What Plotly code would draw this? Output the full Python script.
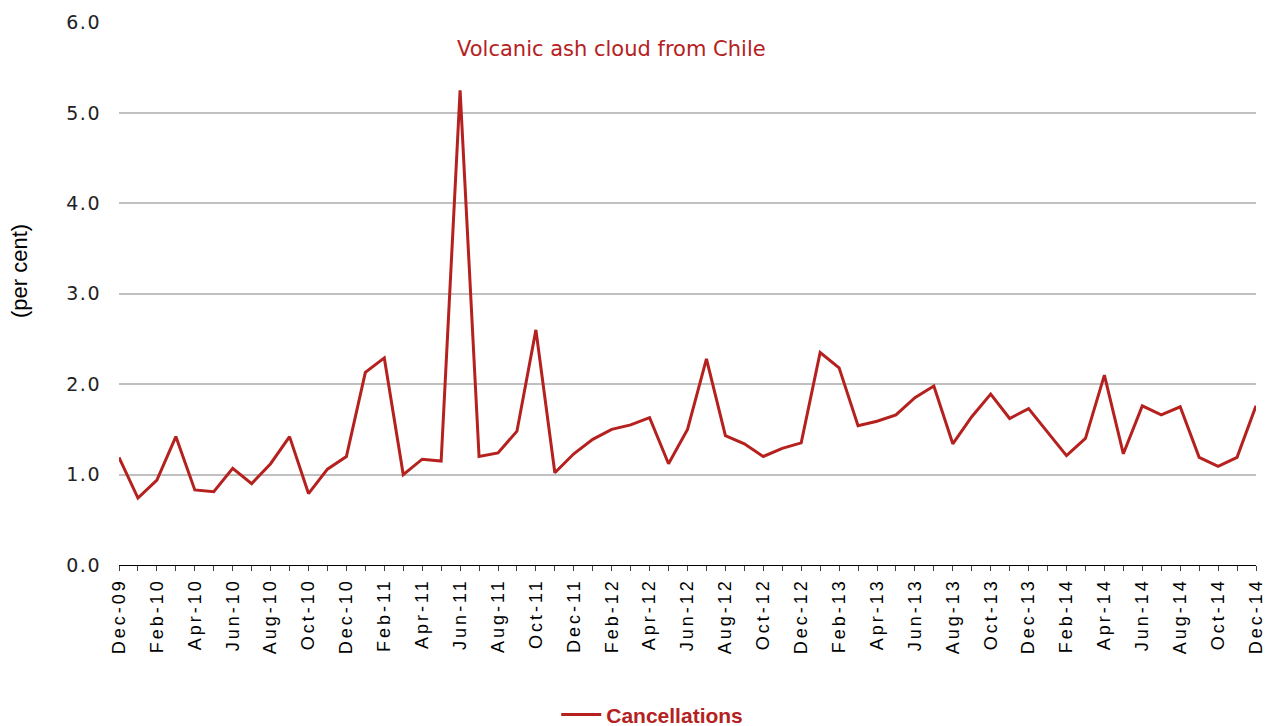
import plotly.graph_objects as go

months = ["Dec-09",
          "Jan-10", "Feb-10", "Mar-10", "Apr-10", "May-10", "Jun-10", "Jul-10", "Aug-10", "Sep-10", "Oct-10", "Nov-10", "Dec-10",
          "Jan-11", "Feb-11", "Mar-11", "Apr-11", "May-11", "Jun-11", "Jul-11", "Aug-11", "Sep-11", "Oct-11", "Nov-11", "Dec-11",
          "Jan-12", "Feb-12", "Mar-12", "Apr-12", "May-12", "Jun-12", "Jul-12", "Aug-12", "Sep-12", "Oct-12", "Nov-12", "Dec-12",
          "Jan-13", "Feb-13", "Mar-13", "Apr-13", "May-13", "Jun-13", "Jul-13", "Aug-13", "Sep-13", "Oct-13", "Nov-13", "Dec-13",
          "Jan-14", "Feb-14", "Mar-14", "Apr-14", "May-14", "Jun-14", "Jul-14", "Aug-14", "Sep-14", "Oct-14", "Nov-14", "Dec-14"]

cancellations = [1.19,
                 0.74, 0.94, 1.42, 0.83, 0.81, 1.07, 0.90, 1.12, 1.42, 0.79, 1.06, 1.20,
                 2.13, 2.29, 1.00, 1.17, 1.15, 5.25, 1.20, 1.24, 1.48, 2.60, 1.02, 1.23,
                 1.39, 1.50, 1.55, 1.63, 1.12, 1.50, 2.28, 1.43, 1.34, 1.20, 1.29, 1.35,
                 2.35, 2.18, 1.54, 1.59, 1.66, 1.85, 1.98, 1.34, 1.64, 1.89, 1.62, 1.73,
                 1.47, 1.21, 1.40, 2.10, 1.23, 1.76, 1.66, 1.75, 1.19, 1.09, 1.19, 1.76]

tick_text = [m if i % 2 == 0 else "" for i, m in enumerate(months)]

annotation_text = "Volcanic ash cloud from Chile"
annotation_month = "Feb-12"
annotation_value = 5.71

y_title = "(per cent)"

red = "#B5211E"

fig = go.Figure()
fig.add_trace(go.Scatter(
    x=months, y=cancellations, mode="lines", name="Cancellations",
    line=dict(color=red, width=3),
))

fig.add_annotation(
    x=annotation_month, y=annotation_value, xref="x", yref="y",
    text=annotation_text, showarrow=False,
    font=dict(family="DejaVu Sans", size=21, color=red),
)

# y-axis title (placed as rotated text, as in the original)
fig.add_annotation(
    x=-0.088, y=0.5414, xref="paper", yref="paper",
    xanchor="center", yanchor="middle", textangle=-90,
    text=y_title, showarrow=False,
    font=dict(family="Liberation Sans", size=22, color="black"),
)

fig.update_layout(
    width=1271, height=726,
    margin=dict(l=119, r=15, t=22, b=161),
    plot_bgcolor="white", paper_bgcolor="white",
    showlegend=True,
    legend=dict(
        orientation="h", x=0.469, xanchor="center",
        yref="container", y=0.0152, yanchor="middle",
        font=dict(family="Liberation Sans", size=21, color=red, weight="bold"),
        itemwidth=40,
    ),
    xaxis=dict(
        type="category", range=[0, 60], automargin=False,
        tickmode="array", tickvals=months, ticktext=tick_text,
        tickangle=-90, ticks="outside", ticklen=5, tickcolor="#404040",
        showline=True, linecolor="black", linewidth=1,
        showgrid=False,
        tickfont=dict(family="Liberation Sans", size=18, color="black"),
    ),
    yaxis=dict(
        range=[0, 6.005], dtick=1, tickformat=".1f", automargin=False,
        showgrid=True, gridcolor="#C0C0C0", gridwidth=2,
        zeroline=False, showline=False,
        ticks="", ticklabelstandoff=17,
        tickfont=dict(family="DejaVu Sans", size=19, color="#222222"),
    ),
)

post = """
document.body.style.margin='0';
document.body.style.overflow='hidden';
var st=document.createElement('style');
st.textContent='.xtick text{letter-spacing:3px}.ytick text{letter-spacing:1.5px}';
document.head.appendChild(st);
"""

fig.write_html("out.html", post_script=post, config={"displayModeBar": False})
